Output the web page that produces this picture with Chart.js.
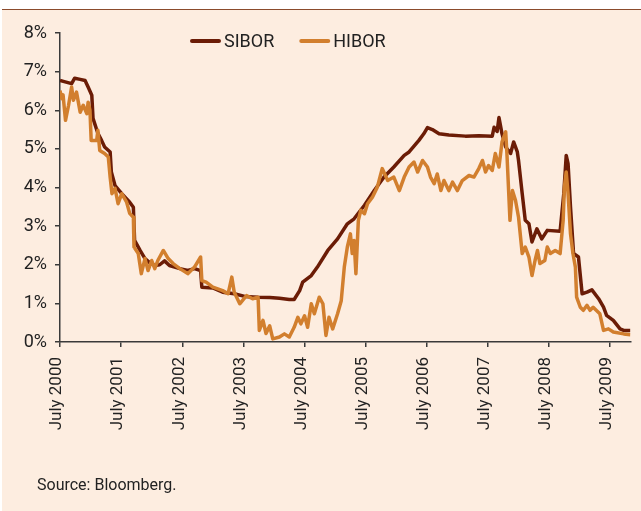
<!DOCTYPE html>
<html>
<head>
<meta charset="utf-8">
<script src="https://cdn.jsdelivr.net/npm/chart.js@4.4.1/dist/chart.umd.min.js"></script>
<style>
  html, body { margin: 0; padding: 0; background: #fff; }
  #frame {
    position: absolute; left: 2px; top: 9px; width: 639px; height: 501px;
    background: #fdede0; border-top: 1px solid #8b4b2c;
  }
  #chart { position: absolute; left: 0; top: 0; }
</style>
</head>
<body>
<div id="frame"></div>
<canvas id="chart" width="641" height="511"></canvas>
<script>
// Rates in %, x = years since July 2000
const tickYears = [2000, 2001, 2002, 2003, 2004, 2005, 2006, 2007, 2008, 2009];
const yTicks = [0, 1, 2, 3, 4, 5, 6, 7, 8];
const sourceNote = 'Source: Bloomberg.';

const siborTime = [0.00,0.07,0.19,0.24,0.33,0.41,0.46,0.52,0.54,0.62,
    0.68,0.73,0.82,0.84,0.90,1.01,1.14,1.20,1.22,1.31,
    1.39,1.47,1.55,1.63,1.71,1.79,1.96,2.09,2.20,2.30,
    2.32,2.50,2.66,2.85,3.02,3.24,3.43,3.59,3.75,3.83,
    3.92,3.97,4.11,4.21,4.38,4.54,4.70,4.81,4.98,5.14,
    5.30,5.46,5.63,5.71,5.87,5.95,6.01,6.09,6.20,6.36,
    6.63,6.85,7.07,7.10,7.15,7.18,7.23,7.29,7.37,7.42,
    7.48,7.50,7.56,7.61,7.67,7.72,7.80,7.88,7.97,8.18,
    8.24,8.28,8.31,8.35,8.40,8.48,8.54,8.62,8.70,8.81,
    8.89,8.94,9.05,9.16,9.22,9.33];
const siborRate = [6.77,6.74,6.69,6.83,6.80,6.77,6.60,6.39,5.79,5.40,
    5.22,5.05,4.92,4.40,4.05,3.84,3.62,3.49,2.63,2.37,
    2.16,2.05,1.98,2.00,2.10,1.98,1.90,1.85,1.90,1.85,
    1.42,1.40,1.29,1.25,1.18,1.16,1.15,1.13,1.10,1.10,
    1.33,1.55,1.72,1.94,2.37,2.67,3.06,3.19,3.54,3.92,
    4.27,4.53,4.83,4.92,5.22,5.39,5.55,5.50,5.39,5.36,
    5.33,5.34,5.33,5.56,5.45,5.81,5.39,5.05,4.88,5.18,
    4.92,4.70,3.84,3.15,3.06,2.59,2.93,2.67,2.89,2.87,
    3.84,4.83,4.62,3.49,2.29,2.20,1.25,1.29,1.35,1.12,
    0.90,0.69,0.56,0.34,0.30,0.30];

const hiborTime = [0.00,0.03,0.05,0.09,0.14,0.19,0.22,0.27,0.33,0.38,
    0.44,0.46,0.49,0.51,0.60,0.62,0.65,0.73,0.79,0.82,
    0.85,0.90,0.95,1.01,1.09,1.14,1.20,1.21,1.28,1.33,
    1.39,1.44,1.50,1.55,1.60,1.69,1.77,1.85,1.96,2.09,
    2.20,2.30,2.32,2.39,2.50,2.66,2.75,2.81,2.85,2.94,
    3.05,3.15,3.24,3.26,3.32,3.37,3.43,3.48,3.59,3.67,
    3.75,3.83,3.89,3.94,4.00,4.05,4.11,4.16,4.24,4.30,
    4.35,4.40,4.46,4.54,4.60,4.65,4.70,4.75,4.78,4.81,
    4.84,4.88,4.92,4.98,5.03,5.11,5.19,5.27,5.36,5.46,
    5.55,5.63,5.71,5.79,5.85,5.93,6.01,6.06,6.12,6.17,
    6.23,6.28,6.36,6.42,6.50,6.58,6.69,6.77,6.85,6.91,
    6.96,7.01,7.07,7.12,7.18,7.23,7.29,7.31,7.36,7.40,
    7.45,7.50,7.56,7.61,7.67,7.72,7.77,7.81,7.85,7.93,
    7.97,8.02,8.10,8.18,8.23,8.25,8.28,8.31,8.35,8.39,
    8.43,8.45,8.51,8.56,8.62,8.67,8.72,8.83,8.89,8.97,
    9.05,9.22,9.33];
const hiborRate = [6.51,6.30,6.40,5.74,6.13,6.60,6.26,6.47,5.95,6.13,
    5.91,6.21,6.00,5.22,5.22,5.48,4.96,4.88,4.79,4.27,
    3.84,3.98,3.58,3.84,3.62,3.33,3.23,2.46,2.29,1.77,
    2.16,1.85,2.11,1.90,2.11,2.37,2.16,2.03,1.90,1.77,
    1.94,2.20,1.59,1.55,1.42,1.33,1.25,1.68,1.29,0.99,
    1.20,1.12,1.16,0.30,0.56,0.22,0.42,0.08,0.13,0.21,
    0.13,0.38,0.64,0.47,0.68,0.38,0.99,0.73,1.16,0.99,
    0.17,0.64,0.34,0.73,1.07,1.94,2.46,2.80,2.29,2.63,
    1.77,3.15,3.41,3.32,3.58,3.75,4.01,4.49,4.18,4.27,
    3.92,4.27,4.53,4.66,4.40,4.70,4.53,4.27,4.10,4.35,
    3.92,4.18,3.92,4.14,3.92,4.18,4.31,4.27,4.49,4.70,
    4.40,4.57,4.44,4.88,4.53,5.18,5.44,4.88,3.15,3.92,
    3.67,3.23,2.29,2.46,2.20,1.72,2.11,2.37,2.03,2.11,
    2.46,2.29,2.37,2.29,3.15,4.01,4.40,3.84,2.80,2.29,
    1.94,1.16,0.90,0.82,0.95,0.82,0.90,0.73,0.30,0.34,
    0.26,0.21,0.19];

const FONT = "Roboto, 'Liberation Sans', sans-serif";
const AXIS = '#3a3a3a';
const TEXT = '#222222';

function toPoints(xs, ys) {
    return xs.map((x, i) => ({ x: x, y: ys[i] }));
}

// legend sits left of centre in the original, and the source note sits
// under the axis labels, so both are drawn here
const refDecor = {
    id: 'refDecor',
    afterDraw(chart) {
        const ctx = chart.ctx;
        let x = 192;
        const y = 41;
        ctx.save();
        ctx.font = '18px ' + FONT;
        ctx.textBaseline = 'middle';
        ctx.textAlign = 'left';
        chart.data.datasets.forEach(ds => {
            ctx.strokeStyle = ds.borderColor;
            ctx.lineWidth = 4;
            ctx.lineCap = 'round';
            ctx.beginPath();
            ctx.moveTo(x, y);
            ctx.lineTo(x + 27, y);
            ctx.stroke();
            ctx.fillStyle = TEXT;
            ctx.fillText(ds.label, x + 32, y + 1);
            x += 32 + ctx.measureText(ds.label).width + 27;
        });

        ctx.font = '16px ' + FONT;
        ctx.fillStyle = TEXT;
        ctx.fillText(sourceNote, 37, 486);
        ctx.restore();
    }
};

new Chart(document.getElementById('chart').getContext('2d'), {
    type: 'line',
    data: {
        datasets: [
            {
                label: 'SIBOR',
                data: toPoints(siborTime, siborRate),
                borderColor: '#6b1c06',
                borderWidth: 3.5,
                borderJoinStyle: 'round',
                pointRadius: 0,
                tension: 0,
                order: 1
            },
            {
                label: 'HIBOR',
                data: toPoints(hiborTime, hiborRate),
                borderColor: '#d27f2e',
                borderWidth: 3.5,
                borderJoinStyle: 'round',
                pointRadius: 0,
                tension: 0,
                order: 0
            }
        ]
    },
    options: {
        responsive: false,
        animation: false,
        layout: { padding: { top: 33, left: 0, right: 10, bottom: 0 } },
        plugins: {
            legend: { display: false },
            tooltip: { enabled: false }
        },
        scales: {
            x: {
                type: 'linear',
                min: 0,
                max: 9.33,
                afterFit: s => { s.height = 169; },
                afterBuildTicks: s => { s.ticks = tickYears.map((y, i) => ({ value: i })); },
                grid: { drawOnChartArea: false, tickLength: 5, color: AXIS, lineWidth: 1.5 },
                border: { color: AXIS, width: 1.5 },
                ticks: {
                    autoSkip: false,
                    minRotation: 90,
                    maxRotation: 90,
                    padding: 10,
                    labelOffset: -3,
                    color: TEXT,
                    font: { family: FONT, size: 17 },
                    callback: v => 'July ' + tickYears[v]
                }
            },
            y: {
                min: 0,
                max: 8,
                afterFit: s => { s.width = 60; },
                afterBuildTicks: s => { s.ticks = yTicks.map(v => ({ value: v })); },
                grid: { drawOnChartArea: false, tickLength: 5, color: AXIS, lineWidth: 1.5 },
                border: { color: AXIS, width: 1.5 },
                ticks: {
                    padding: 8,
                    color: TEXT,
                    font: { family: FONT, size: 18 },
                    callback: v => v + '%'
                }
            }
        }
    },
    plugins: [refDecor]
});
</script>
</body>
</html>
